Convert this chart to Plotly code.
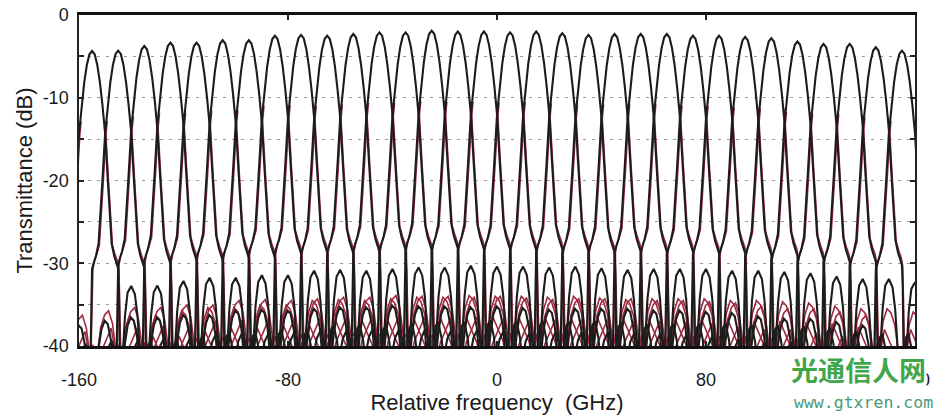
import plotly.graph_objects as go

# ---- data ----
# channel centre frequencies (GHz)
CH_FREQ = [-155, -145, -135, -125, -115, -105, -95, -85, -75, -65, -55, -45, -35, -25, -15, -5,
           5, 15, 25, 35, 45, 55, 65, 75, 85, 95, 105, 115, 125, 135, 145, 155]
# peak transmittance of each channel (dB)
CH_PEAK = [-4.35, -4.3, -3.75, -3.35, -3.35, -3.05, -3.05, -2.5, -2.4, -2.5, -2.3, -2.1, -2.1, -1.9, -2.0, -2.0,
           -2.1, -2.0, -2.2, -2.4, -2.3, -2.3, -2.3, -2.5, -2.5, -2.65, -2.8, -3.2, -3.5, -3.5, -3.9, -4.3]

# measured channel response relative to its peak (offset GHz from centre, relative dB)
# high-frequency side
PROF_R_OFF = [0, 1, 2, 3, 4, 5, 6, 7, 7.5, 8.5, 9.5, 10, 10.3, 10.6, 10.9, 11.7, 12.6, 13.6, 15,
              16.4, 17.4, 18.4, 19.1, 19.7, 20.4, 21.5, 22.5, 23.8, 25, 26]
PROF_R_DB = [0, -0.4, -1.7, -3.8, -6.6, -10.0, -15.5, -21.0, -23.3, -24.8, -25.8, -26.3, -29.0, -36.0, -44.0,
             -37.0, -32.0, -29.2, -28.4, -29.4, -32.0, -37.0, -43.0, -43.0, -38.5, -35.5, -35.0, -37.0, -41.0, -45.0]
# low-frequency side
PROF_L_OFF = [0, -1, -2, -3, -4, -5, -6, -7, -7.5, -8.5, -9.5, -10, -10.3, -10.6, -10.9, -11.8, -12.8, -14, -15.2,
              -16.4, -17.5, -18.6, -19.3, -20, -21, -22.5, -24, -25.5, -27, -28.5]
PROF_L_DB = [0, -0.4, -1.7, -3.8, -6.6, -10.0, -15.5, -21.0, -23.3, -24.8, -25.8, -26.4, -29.5, -37.0, -44.0,
             -39.0, -35.5, -33.6, -33.2, -34.2, -36.5, -40.0, -44.0, -42.0, -37.5, -36.0, -37.0, -39.5, -42.0, -45.0]

# second (red) measurement: lower skirts only, (offset GHz, relative dB)
RED_OFF = [4.5, 5, 6, 7, 7.5, 8.5, 9.5, 10, 10.4, 10.8, 11.5, 12.5, 14, 15.5, 17, 18, 19, 19.8,
           21, 23, 25, 27, 28.5, 30, 32, 33.5]
RED_DB = [-8.5, -10.2, -15.8, -21.3, -23.5, -24.6, -25.5, -26.5, -31.0, -38.0, -36.0, -33.5, -32.0, -32.5,
          -34.0, -36.5, -39.0, -43.0, -38.0, -34.5, -36.0, -37.5, -40.0, -36.5, -38.0, -42.0]
RED_SHIFT = 0.3

X_TICKS = [-160, -80, 0, 80, 160]
X_TICK_TEXT = ["-160", "-80", "0", "80", "160"]
Y_TICKS = [-40, -35, -30, -25, -20, -15, -10, -5, 0]
Y_TICK_TEXT = ["-40", "", "-30", "", "-20", "", "-10", "", "0"]

# ---- build traces ----
full_off = list(reversed(PROF_L_OFF[1:])) + PROF_R_OFF
full_db = list(reversed(PROF_L_DB[1:])) + PROF_R_DB
black_x, black_y = [], []
for fc, pk in zip(CH_FREQ, CH_PEAK):
    black_x += [fc + o for o in full_off] + [None]
    black_y += [pk + d for d in full_db] + [None]

red_x, red_y = [], []
for fc, pk in zip(CH_FREQ, CH_PEAK):
    for s in (-1, 1):
        red_x += [fc + RED_SHIFT + s * o for o in RED_OFF] + [None]
        red_y += [pk + d for d in RED_DB] + [None]

fig = go.Figure()
fig.add_trace(go.Scatter(x=red_x, y=red_y, mode="lines",
                         line=dict(color="#9e2a40", width=1.6), hoverinfo="skip", showlegend=False))
fig.add_trace(go.Scatter(x=black_x, y=black_y, mode="lines",
                         line=dict(color="#1c1c1c", width=2.1), hoverinfo="skip", showlegend=False))

font_family = "Liberation Sans, Arial, Helvetica, sans-serif"

fig.update_layout(
    width=938, height=415,
    margin=dict(l=79, r=23, t=15, b=69),
    paper_bgcolor="white", plot_bgcolor="white",
    font=dict(family=font_family, color="#1a1a1a"),
    xaxis=dict(
        range=[-160, 160], tickvals=X_TICKS, ticktext=X_TICK_TEXT,
        ticks="inside", ticklen=5, tickwidth=1.5, tickcolor="#222",
        showline=True, linecolor="#111", linewidth=2.5, mirror="ticks",
        showgrid=False, zeroline=False,
        tickfont=dict(size=18), ticklabelstandoff=16,
        title=dict(text="Relative frequency\u00a0\u00a0(GHz)", font=dict(size=22), standoff=2),
        automargin=False,
    ),
    yaxis=dict(
        range=[-40, 0], tickvals=Y_TICKS, ticktext=Y_TICK_TEXT,
        ticks="inside", ticklen=5, tickwidth=1.5, tickcolor="#222",
        showline=True, linecolor="#222", linewidth=1.5, mirror="ticks",
        showgrid=True, gridcolor="#9a9a9a", gridwidth=1, griddash="3px,6px",
        zeroline=False,
        tickfont=dict(size=18), ticklabelstandoff=5,
        title=dict(text="Transmittance (dB)", font=dict(size=22), standoff=4),
        automargin=False,
    ),
)

# watermark
fig.add_annotation(text="<b>光通信人网</b>", xref="paper", yref="paper",
                   x=1.0145, y=-0.07, xanchor="right", yanchor="middle", showarrow=False,
                   font=dict(family="Noto Sans CJK SC", size=27, color="#3fa64a"),
                   bgcolor="white", borderpad=0)
fig.add_annotation(text="www.gtxren.com", xref="paper", yref="paper",
                   x=1.024, y=-0.172, xanchor="right", yanchor="middle", showarrow=False,
                   font=dict(family="DejaVu Sans Mono, monospace", size=16.5, color="#4a9a78"))

fig.write_html("out.html", config={"displayModeBar": False},
               post_script="document.body.style.margin='0';")
